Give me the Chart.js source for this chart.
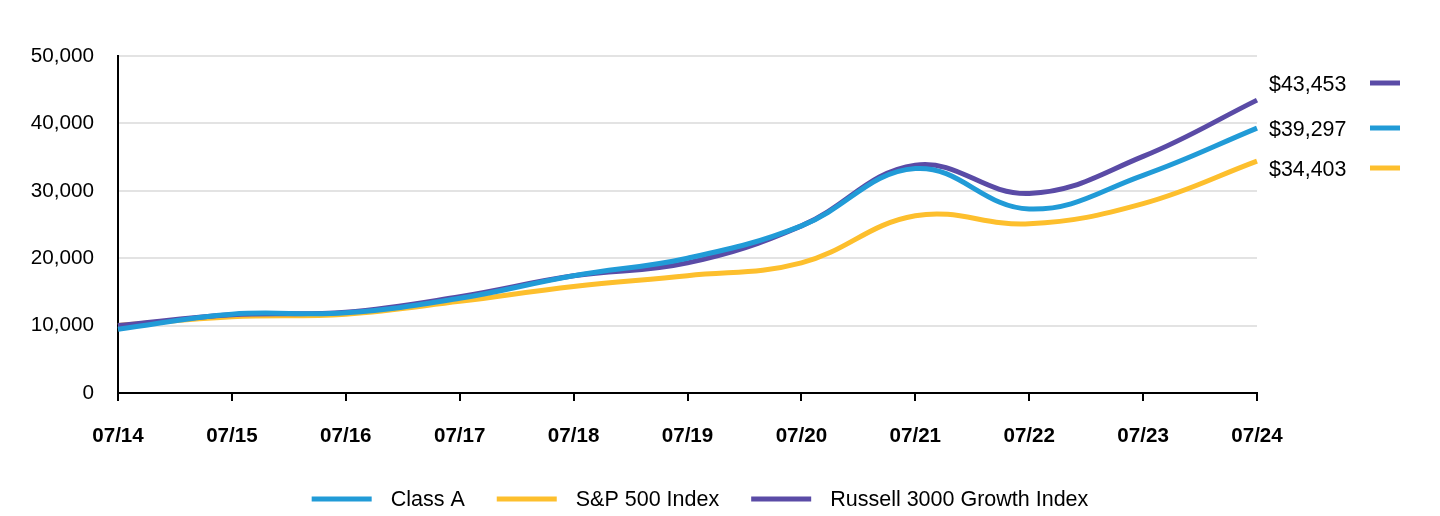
<!DOCTYPE html>
<html>
<head>
<meta charset="utf-8">
<script src="https://cdn.jsdelivr.net/npm/chart.js@4/dist/chart.umd.min.js"></script>
<style>
html,body{margin:0;padding:0;background:#fff;}
#wrap{width:1440px;height:516px;position:relative;}
</style>
</head>
<body>
<div id="wrap"><canvas id="c" width="1440" height="516"></canvas></div>
<script>
const categories = ["07/14","07/15","07/16","07/17","07/18","07/19","07/20","07/21","07/22","07/23","07/24"];
const classA = [9450, 11700, 11900, 14050, 17400, 20000, 24800, 33300, 27300, 32300, 39297];
const sp500 = [10000, 11300, 11700, 13600, 15800, 17400, 19300, 26300, 25100, 28100, 34403];
const russell = [10000, 11600, 12000, 14300, 17400, 19300, 24800, 33800, 29600, 35100, 43453];
const seriesNames = ["Class A", "S&P 500 Index", "Russell 3000 Growth Index"];
const seriesColors = ["#219bd7", "#fdbf2d", "#5a4ba6"];
const yTicks = [0, 10000, 20000, 30000, 40000, 50000];

const FONT = "'Liberation Sans', Arial, sans-serif";

const endLabels = {
  id: 'endLabels',
  afterDraw(chart) {
    const ctx = chart.ctx;
    const area = chart.chartArea;
    const items = chart.data.datasets.map(d => ({v: d.data[d.data.length - 1], c: d.borderColor}));
    items.sort((a, b) => b.v - a.v);
    const offsets = [28, 73, 113];
    ctx.save();
    ctx.font = "21.4px " + FONT;
    ctx.textBaseline = 'middle';
    ctx.textAlign = 'left';
    items.forEach((it, i) => {
      const y = area.top + offsets[i];
      ctx.fillStyle = '#000';
      ctx.fillText('$' + it.v.toLocaleString('en-US'), area.right + 12, y + 1);
      ctx.strokeStyle = it.c;
      ctx.lineWidth = 5;
      ctx.beginPath();
      ctx.moveTo(area.right + 113, y - 1);
      ctx.lineTo(area.right + 143, y - 1);
      ctx.stroke();
    });
    ctx.restore();
  }
};

const customLegend = {
  id: 'customLegend',
  afterDraw(chart) {
    const ctx = chart.ctx;
    ctx.save();
    ctx.font = "21.5px " + FONT;
    ctx.textBaseline = 'middle';
    const lineW = 60, gapText = 19, gapItem = 32;
    const ds = chart.data.datasets;
    let total = 0;
    ds.forEach((d, i) => {
      total += lineW + gapText + ctx.measureText(d.label).width;
      if (i < ds.length - 1) total += gapItem;
    });
    let x = 700 - total / 2;
    const y = 499;
    ds.forEach(d => {
      ctx.strokeStyle = d.borderColor;
      ctx.lineWidth = 5;
      ctx.beginPath();
      ctx.moveTo(x, y);
      ctx.lineTo(x + lineW, y);
      ctx.stroke();
      x += lineW + gapText;
      ctx.fillStyle = '#000';
      ctx.fillText(d.label, x, y + 1);
      x += ctx.measureText(d.label).width + gapItem;
    });
    ctx.restore();
  }
};

new Chart(document.getElementById('c'), {
  type: 'line',
  data: {
    labels: categories,
    datasets: [
      {label: seriesNames[0], data: classA, borderColor: seriesColors[0], backgroundColor: seriesColors[0], order: 0},
      {label: seriesNames[1], data: sp500, borderColor: seriesColors[1], backgroundColor: seriesColors[1], order: 2},
      {label: seriesNames[2], data: russell, borderColor: seriesColors[2], backgroundColor: seriesColors[2], order: 1}
    ]
  },
  options: {
    responsive: false,
    animation: false,
    devicePixelRatio: 1,
    elements: {
      line: {borderWidth: 5, tension: 0.4, capBezierPoints: true},
      point: {radius: 0, hoverRadius: 0}
    },
    layout: {padding: {top: 56, right: 183, bottom: 68, left: 0}},
    plugins: {legend: {display: false}, tooltip: {enabled: false}},
    scales: {
      x: {
        type: 'category',
        offset: false,
        border: {display: true, color: '#000', width: 2},
        grid: {display: true, drawOnChartArea: false, drawTicks: true, tickLength: 8, color: '#000', lineWidth: 2},
        ticks: {color: '#000', padding: 23, maxRotation: 0, autoSkip: false, font: {family: FONT, size: 20.6, weight: 'bold'}},
        afterFit(s) { s.height = 55; }
      },
      y: {
        min: 0, max: 50000,
        afterBuildTicks(s) { s.ticks = yTicks.map(v => ({value: v})); },
        border: {display: true, color: '#000', width: 2},
        grid: {color: '#e3e3e3', lineWidth: 2, drawTicks: false},
        ticks: {color: '#000', padding: 24, font: {family: FONT, size: 20.7},
          callback: v => v.toLocaleString('en-US')},
        afterFit(s) { s.width = 118; }
      }
    }
  },
  plugins: [endLabels, customLegend]
});
</script>
</body>
</html>
